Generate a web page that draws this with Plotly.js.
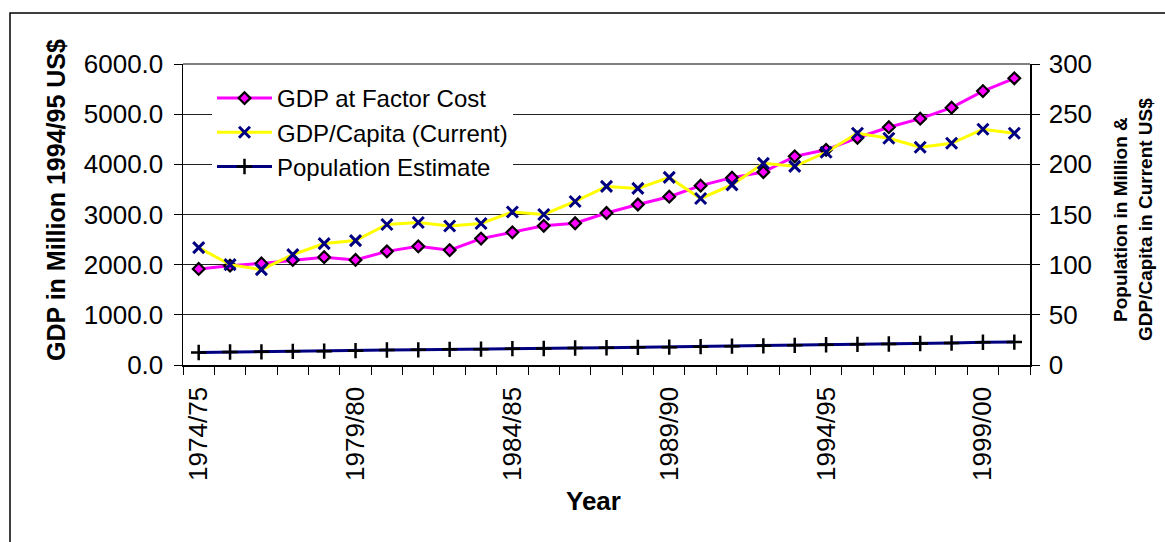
<!DOCTYPE html>
<html>
<head>
<meta charset="utf-8">
<script src="https://cdn.plot.ly/plotly-3.0.1.min.js"></script>
<style>html,body{margin:0;padding:0;background:#fff;}#chart{width:1165px;height:542px;}</style>
</head>
<body>
<div id="chart"></div>
<script>
var years = ['1974/75','1975/76','1976/77','1977/78','1978/79','1979/80','1980/81','1981/82','1982/83','1983/84',
  '1984/85','1985/86','1986/87','1987/88','1988/89','1989/90','1990/91','1991/92','1992/93','1993/94',
  '1994/95','1995/96','1996/97','1997/98','1998/99','1999/00','2000/01'];
var gdpFactorCost = [1915,1980,2025,2095,2150,2095,2265,2365,2290,2520,2645,2775,2825,3030,3200,3355,3575,3735,3845,4160,4290,4530,4740,4910,5130,5460,5715];
var gdpPerCapita = [117,100,95,110,121,124,140,142,138.5,141,152.5,150,163,178,176,187,166,179.5,201,198,212,231,226,217,221,235,231];
var population = [12.4,12.9,13.1,13.6,13.8,14.3,14.9,15.1,15.6,15.8,16.3,16.5,17.0,17.2,17.6,17.8,18.3,18.8,19.1,19.6,20.2,20.6,21.0,21.4,21.9,22.6,22.8];
var yLeftTicks = [0,1000,2000,3000,4000,5000,6000];
var yRightTicks = [0,50,100,150,200,250,300];

var FONT = 'Liberation Sans, Arial, sans-serif';
var traces = [
  {x: years, y: gdpFactorCost, name: 'GDP at Factor Cost', type: 'scatter', mode: 'lines+markers', yaxis: 'y',
   line: {color: '#FF00FF', width: 3},
   marker: {symbol: 'diamond', size: 9, color: '#FF00FF', line: {color: '#000000', width: 2.2}}},
  {x: years, y: gdpPerCapita, name: 'GDP/Capita (Current)', type: 'scatter', mode: 'lines+markers', yaxis: 'y2',
   line: {color: '#FFFF00', width: 3},
   marker: {symbol: 'x-thin', size: 11, color: '#000080', line: {color: '#000080', width: 3}}},
  {x: years, y: population, name: 'Population Estimate', type: 'scatter', mode: 'lines+markers', yaxis: 'y2',
   line: {color: '#000080', width: 3},
   marker: {symbol: 'cross-thin', size: 11, color: '#000000', line: {color: '#000000', width: 2.5}}}
];

var L = 183, R = 1030, T = 64, B = 365;
function px(x){ return (x - L) / (R - L); }
function py(y){ return (B - y) / (B - T); }

var layout = {
  width: 1165, height: 542,
  margin: {l: L, r: 1165 - R, t: T, b: 542 - B},
  paper_bgcolor: '#ffffff', plot_bgcolor: '#ffffff',
  font: {family: FONT, size: 24, color: '#000000'},
  showlegend: true,
  legend: {x: px(212), y: py(76), xanchor: 'left', yanchor: 'top', bgcolor: '#ffffff',
           font: {family: FONT, size: 24, color: '#000000'}, itemwidth: 55, tracegroupgap: 0},
  xaxis: {type: 'category', range: [-0.5, years.length - 0.5], autorange: false,
          tickvals: years, ticktext: years.map(function(y, i){ return i % 5 === 0 ? y : ''; }),
          tickson: 'boundaries', ticks: 'outside', ticklen: 8, tickcolor: '#000000', tickwidth: 1,
          tickangle: -90, tickfont: {family: FONT, size: 26}, ticklabelstandoff: 10,
          showline: true, linecolor: '#000000', linewidth: 1.5, showgrid: false, zeroline: false,
          automargin: false},
  yaxis: {range: [0, 6000], tickvals: yLeftTicks, tickformat: '.1f', ticks: 'outside', ticklen: 8,
          tickcolor: '#000000', tickfont: {family: FONT, size: 26}, ticklabelstandoff: 5,
          showline: true, linecolor: '#000000', linewidth: 1.5,
          showgrid: true, gridcolor: '#222222', gridwidth: 1, zeroline: false, automargin: false},
  yaxis2: {range: [0, 300], tickvals: yRightTicks, overlaying: 'y', side: 'right', ticks: 'outside', ticklen: 8,
          tickcolor: '#000000', tickfont: {family: FONT, size: 26}, ticklabelstandoff: 4,
          showline: true, linecolor: '#000000', linewidth: 1.5, showgrid: false, zeroline: false, automargin: false},
  annotations: [
    {text: '<b>GDP in Million 1994/95 US$</b>', xref: 'paper', yref: 'paper', x: px(56), y: py(200),
     xanchor: 'center', yanchor: 'middle', textangle: -90, showarrow: false, font: {family: FONT, size: 25}},
    {text: '<b>Population in Million &amp;<br>GDP/Capita in Current US$</b>', xref: 'paper', yref: 'paper',
     x: px(1133), y: py(220), xanchor: 'center', yanchor: 'middle', textangle: -90, showarrow: false,
     font: {family: FONT, size: 19}},
    {text: '<b>Year</b>', xref: 'paper', yref: 'paper', x: px(593), y: py(501),
     xanchor: 'center', yanchor: 'middle', showarrow: false, font: {family: FONT, size: 26}}
  ],
  shapes: [
    {type: 'line', xref: 'paper', yref: 'paper', x0: 0, x1: 1, y0: 1, y1: 1, line: {color: '#808080', width: 2}},
    {type: 'rect', xref: 'paper', yref: 'paper', x0: px(10), x1: px(1172), y0: py(580), y1: py(13),
     line: {color: '#000000', width: 1.5}, fillcolor: 'rgba(0,0,0,0)', layer: 'below'}
  ]
};

Plotly.newPlot('chart', traces, layout, {displayModeBar: false, staticPlot: true});
</script>
</body>
</html>
